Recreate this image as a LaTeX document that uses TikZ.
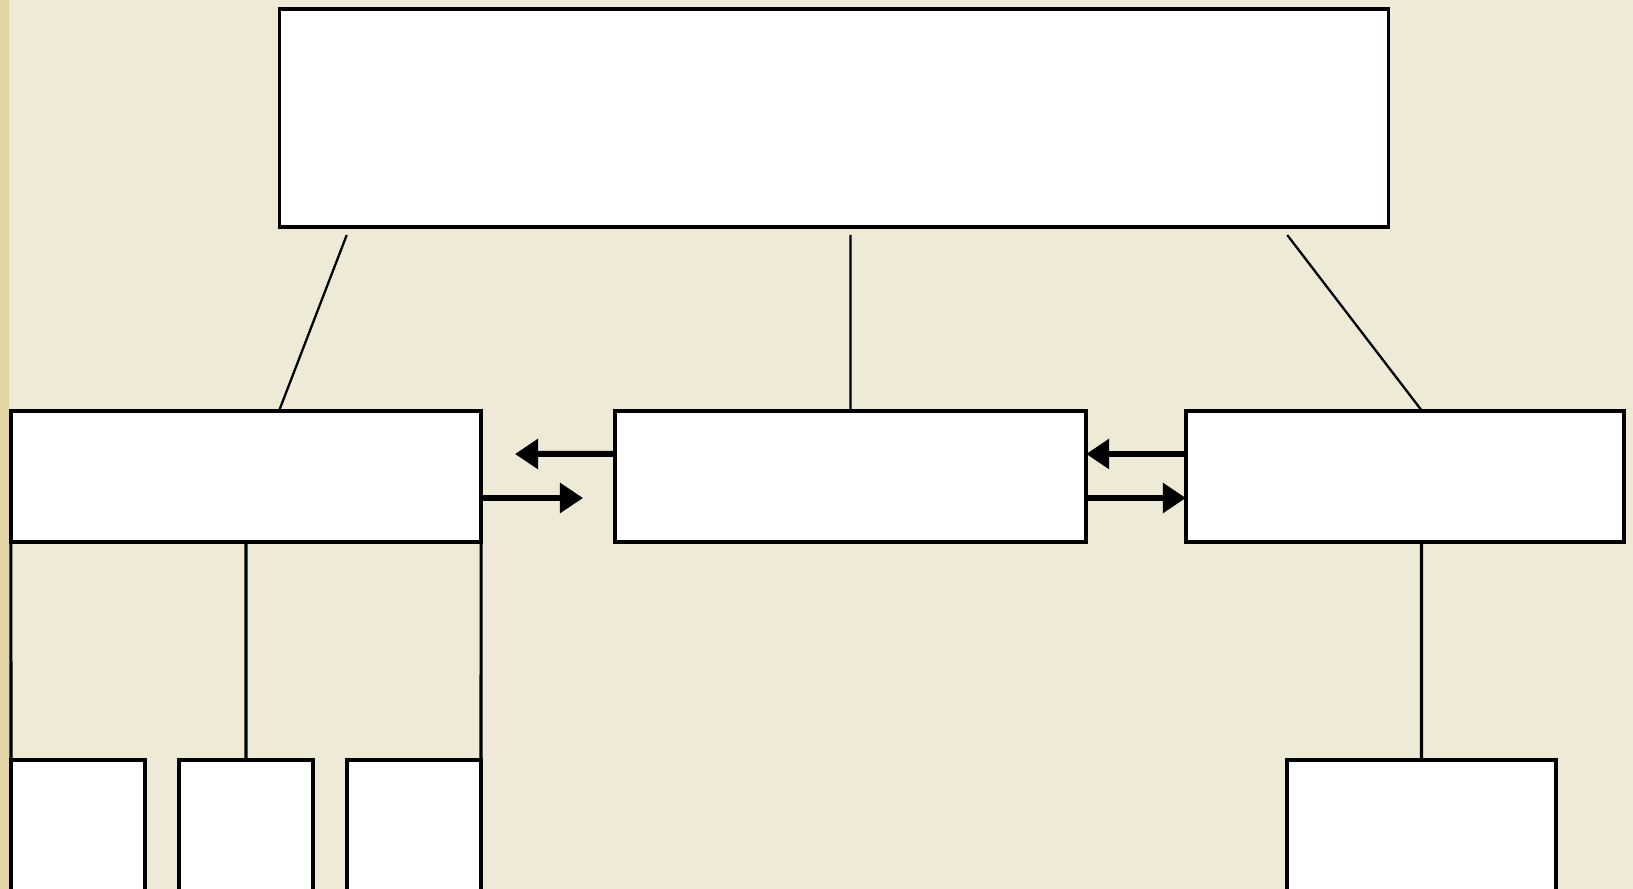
\documentclass[tikz,border=0pt]{standalone}
\usepackage{tikz}
\usetikzlibrary{arrows.meta}
\definecolor{parchment}{HTML}{EEEAD7}
\definecolor{goldedge}{HTML}{E3D6A4}
\tikzset{
  panel/.style = {shape=rectangle, draw, fill=white,
                  line width=1pt, anchor=center,
                  inner sep=0pt, outer sep=0pt},
  goalbox/.style  = {panel, minimum width=11.08cm, minimum height=2.18cm},
  midbox/.style   = {panel, minimum height=1.31cm},
  leafbox/.style  = {panel, minimum width=1.34cm, minimum height=1.40cm},
  link/.style     = {line width=0.65pt},
  stem/.style     = {line width=0.9pt},
  flow/.style     = {line width=1.7pt, -{Triangle[length=0.23cm,width=0.29cm]}}
}

\begin{document}
\begin{tikzpicture}[x=0.01cm, y=-0.01cm]
  \clip (0,0) rectangle (1633,889);
  \fill[parchment] (0,0) rectangle (1633,889);
  \fill[goldedge] (0,0) rectangle (9,889);

  \node[goalbox] (goal) at (834,118) {};
  \node[midbox, minimum width=4.70cm] (left)   at (246,476.5)  {};
  \node[midbox, minimum width=4.71cm] (centre) at (850.5,476.5) {};
  \node[midbox, minimum width=4.38cm] (right)  at (1405,476.5) {};

  \node[leafbox] (sub-1) at (78,830)  {};
  \node[leafbox] (sub-2) at (246,830) {};
  \node[leafbox] (sub-3) at (414,830) {};
  \node[leafbox, minimum width=2.69cm] (rsub) at (1421.5,830) {};

  % goal to the three middle boxes
  \draw[link]
    ([xshift=-4.87cm, yshift=-0.08cm]goal.south) -- ([xshift=0.33cm]left.north)
    (centre.north) -- ++(0,-176)
    ([xshift=4.53cm, yshift=-0.08cm]goal.south) -- ([xshift=0.17cm]right.north);

  % middle boxes to the lower ones
  \draw[stem]
    (left.south) -- (sub-2.north)
    (left.south west) -- (sub-1.north west)
    (left.south east) -- (sub-3.north east)
    (rsub.north |- right.south) -- (rsub.north);

  \coordinate (lback) at (515,454);
  \coordinate (lfwd)  at (583,498);
  \draw[flow] ([yshift=0.225cm]centre.west) -- (lback);
  \draw[flow] ([yshift=-0.215cm]left.east) -- (lfwd);
  \draw[flow] ([yshift=0.225cm]right.west) -- ([yshift=0.225cm]centre.east);
  \draw[flow] ([yshift=-0.215cm]centre.east) -- ([yshift=-0.215cm]right.west);
\end{tikzpicture}
\end{document}
